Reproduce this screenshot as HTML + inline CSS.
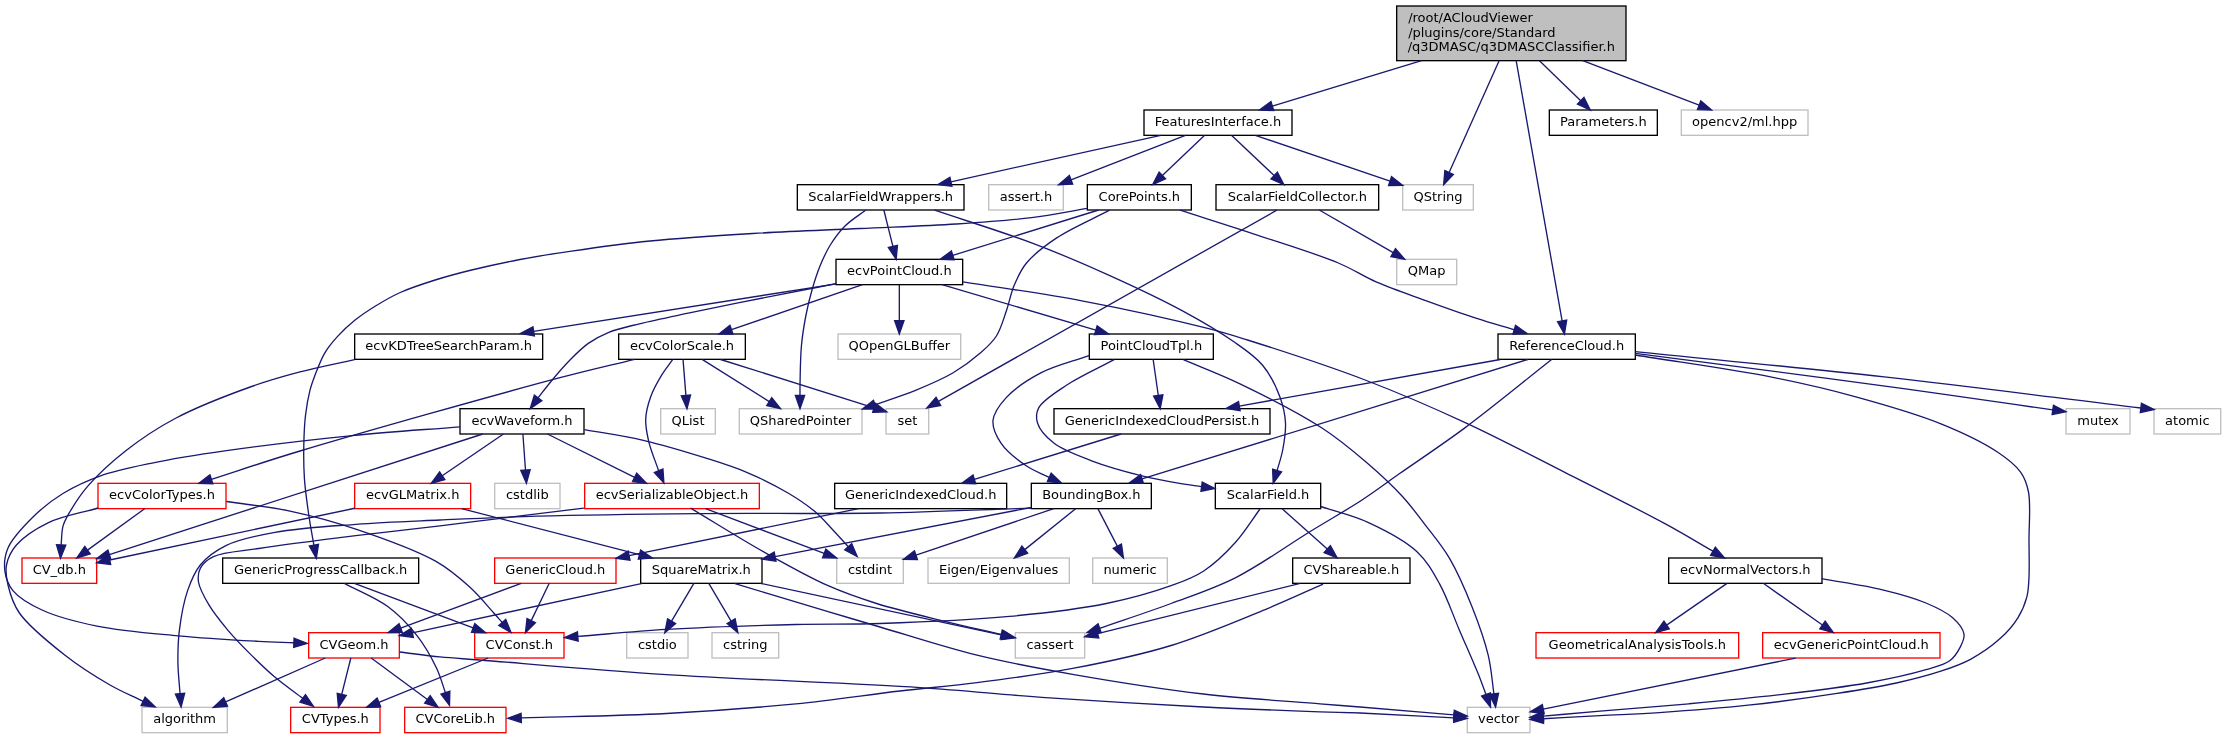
<!DOCTYPE html>
<html><head><meta charset="utf-8"><title>q3DMASCClassifier.h include graph</title>
<style>html,body{margin:0;padding:0;background:#fff}svg{display:block;will-change:transform}text{font-family:"DejaVu Sans","Liberation Sans",sans-serif;font-size:13px;fill:#000}.e path{fill:none;stroke:#191970;stroke-width:1.333}.e polygon{fill:#191970;stroke:#191970;stroke-width:1.333}.n rect{stroke-width:1.333}</style></head><body>
<svg width="2226" height="739" viewBox="0 0 2226 739">
<rect x="0" y="0" width="2226" height="739" fill="#fff"/>
<g class="n">
<rect x="1396.67" y="6.00" width="229.33" height="54.67" fill="#bfbfbf" stroke="#000"/>
<text x="1408.13" y="22.00">/root/ACloudViewer</text>
<text x="1408.13" y="36.67">/plugins/core/Standard</text>
<text x="1511.33" y="51.33" text-anchor="middle">/q3DMASC/q3DMASCClassifier.h</text>
<rect x="1144.00" y="110.00" width="148.00" height="25.33" fill="#fff" stroke="#000"/>
<text x="1218.00" y="126.00" text-anchor="middle">FeaturesInterface.h</text>
<rect x="1549.33" y="110.00" width="108.00" height="25.33" fill="#fff" stroke="#000"/>
<text x="1603.33" y="126.00" text-anchor="middle">Parameters.h</text>
<rect x="1681.33" y="110.00" width="126.67" height="25.33" fill="#fff" stroke="#bfbfbf"/>
<text x="1744.67" y="126.00" text-anchor="middle">opencv2/ml.hpp</text>
<rect x="797.33" y="184.67" width="166.67" height="25.33" fill="#fff" stroke="#000"/>
<text x="880.67" y="200.67" text-anchor="middle">ScalarFieldWrappers.h</text>
<rect x="988.67" y="184.67" width="74.67" height="25.33" fill="#fff" stroke="#bfbfbf"/>
<text x="1026.00" y="200.67" text-anchor="middle">assert.h</text>
<rect x="1087.33" y="184.67" width="104.00" height="25.33" fill="#fff" stroke="#000"/>
<text x="1139.33" y="200.67" text-anchor="middle">CorePoints.h</text>
<rect x="1216.00" y="184.67" width="162.67" height="25.33" fill="#fff" stroke="#000"/>
<text x="1297.33" y="200.67" text-anchor="middle">ScalarFieldCollector.h</text>
<rect x="1402.67" y="184.67" width="70.67" height="25.33" fill="#fff" stroke="#bfbfbf"/>
<text x="1438.00" y="200.67" text-anchor="middle">QString</text>
<rect x="836.00" y="259.33" width="126.67" height="25.33" fill="#fff" stroke="#000"/>
<text x="899.33" y="275.33" text-anchor="middle">ecvPointCloud.h</text>
<rect x="1396.67" y="259.33" width="60.00" height="25.33" fill="#fff" stroke="#bfbfbf"/>
<text x="1426.67" y="275.33" text-anchor="middle">QMap</text>
<rect x="354.67" y="334.00" width="188.00" height="25.33" fill="#fff" stroke="#000"/>
<text x="448.67" y="350.00" text-anchor="middle">ecvKDTreeSearchParam.h</text>
<rect x="618.67" y="334.00" width="126.67" height="25.33" fill="#fff" stroke="#000"/>
<text x="682.00" y="350.00" text-anchor="middle">ecvColorScale.h</text>
<rect x="838.00" y="334.00" width="122.67" height="25.33" fill="#fff" stroke="#bfbfbf"/>
<text x="899.33" y="350.00" text-anchor="middle">QOpenGLBuffer</text>
<rect x="1089.33" y="334.00" width="124.00" height="25.33" fill="#fff" stroke="#000"/>
<text x="1151.33" y="350.00" text-anchor="middle">PointCloudTpl.h</text>
<rect x="1498.00" y="334.00" width="137.33" height="25.33" fill="#fff" stroke="#000"/>
<text x="1566.67" y="350.00" text-anchor="middle">ReferenceCloud.h</text>
<rect x="460.00" y="408.67" width="124.00" height="25.33" fill="#fff" stroke="#000"/>
<text x="522.00" y="424.67" text-anchor="middle">ecvWaveform.h</text>
<rect x="660.67" y="408.67" width="54.67" height="25.33" fill="#fff" stroke="#bfbfbf"/>
<text x="688.00" y="424.67" text-anchor="middle">QList</text>
<rect x="739.33" y="408.67" width="122.67" height="25.33" fill="#fff" stroke="#bfbfbf"/>
<text x="800.67" y="424.67" text-anchor="middle">QSharedPointer</text>
<rect x="886.00" y="408.67" width="42.67" height="25.33" fill="#fff" stroke="#bfbfbf"/>
<text x="907.33" y="424.67" text-anchor="middle">set</text>
<rect x="1054.00" y="408.67" width="216.00" height="25.33" fill="#fff" stroke="#000"/>
<text x="1162.00" y="424.67" text-anchor="middle">GenericIndexedCloudPersist.h</text>
<rect x="2066.00" y="408.67" width="64.00" height="25.33" fill="#fff" stroke="#bfbfbf"/>
<text x="2098.00" y="424.67" text-anchor="middle">mutex</text>
<rect x="2154.00" y="408.67" width="66.67" height="25.33" fill="#fff" stroke="#bfbfbf"/>
<text x="2187.33" y="424.67" text-anchor="middle">atomic</text>
<rect x="98.00" y="483.33" width="128.00" height="25.33" fill="#fff" stroke="#f00"/>
<text x="162.00" y="499.33" text-anchor="middle">ecvColorTypes.h</text>
<rect x="354.67" y="483.33" width="116.00" height="25.33" fill="#fff" stroke="#f00"/>
<text x="412.67" y="499.33" text-anchor="middle">ecvGLMatrix.h</text>
<rect x="494.67" y="483.33" width="65.33" height="25.33" fill="#fff" stroke="#bfbfbf"/>
<text x="527.33" y="499.33" text-anchor="middle">cstdlib</text>
<rect x="584.67" y="483.33" width="174.67" height="25.33" fill="#fff" stroke="#f00"/>
<text x="672.00" y="499.33" text-anchor="middle">ecvSerializableObject.h</text>
<rect x="834.67" y="483.33" width="172.00" height="25.33" fill="#fff" stroke="#000"/>
<text x="920.67" y="499.33" text-anchor="middle">GenericIndexedCloud.h</text>
<rect x="1031.33" y="483.33" width="120.00" height="25.33" fill="#fff" stroke="#000"/>
<text x="1091.33" y="499.33" text-anchor="middle">BoundingBox.h</text>
<rect x="1215.33" y="483.33" width="105.33" height="25.33" fill="#fff" stroke="#000"/>
<text x="1268.00" y="499.33" text-anchor="middle">ScalarField.h</text>
<rect x="22.00" y="558.00" width="74.67" height="25.33" fill="#fff" stroke="#f00"/>
<text x="59.33" y="574.00" text-anchor="middle">CV_db.h</text>
<rect x="222.67" y="558.00" width="196.00" height="25.33" fill="#fff" stroke="#000"/>
<text x="320.67" y="574.00" text-anchor="middle">GenericProgressCallback.h</text>
<rect x="494.67" y="558.00" width="121.33" height="25.33" fill="#fff" stroke="#f00"/>
<text x="555.33" y="574.00" text-anchor="middle">GenericCloud.h</text>
<rect x="640.67" y="558.00" width="121.33" height="25.33" fill="#fff" stroke="#000"/>
<text x="701.33" y="574.00" text-anchor="middle">SquareMatrix.h</text>
<rect x="836.67" y="558.00" width="66.67" height="25.33" fill="#fff" stroke="#bfbfbf"/>
<text x="870.00" y="574.00" text-anchor="middle">cstdint</text>
<rect x="928.00" y="558.00" width="141.33" height="25.33" fill="#fff" stroke="#bfbfbf"/>
<text x="998.67" y="574.00" text-anchor="middle">Eigen/Eigenvalues</text>
<rect x="1092.67" y="558.00" width="74.67" height="25.33" fill="#fff" stroke="#bfbfbf"/>
<text x="1130.00" y="574.00" text-anchor="middle">numeric</text>
<rect x="1292.67" y="558.00" width="117.33" height="25.33" fill="#fff" stroke="#000"/>
<text x="1351.33" y="574.00" text-anchor="middle">CVShareable.h</text>
<rect x="1668.67" y="558.00" width="153.33" height="25.33" fill="#fff" stroke="#000"/>
<text x="1745.33" y="574.00" text-anchor="middle">ecvNormalVectors.h</text>
<rect x="308.67" y="632.67" width="90.67" height="25.33" fill="#fff" stroke="#f00"/>
<text x="354.00" y="648.67" text-anchor="middle">CVGeom.h</text>
<rect x="474.67" y="632.67" width="89.33" height="25.33" fill="#fff" stroke="#f00"/>
<text x="519.33" y="648.67" text-anchor="middle">CVConst.h</text>
<rect x="626.67" y="632.67" width="61.33" height="25.33" fill="#fff" stroke="#bfbfbf"/>
<text x="657.33" y="648.67" text-anchor="middle">cstdio</text>
<rect x="712.00" y="632.67" width="66.67" height="25.33" fill="#fff" stroke="#bfbfbf"/>
<text x="745.33" y="648.67" text-anchor="middle">cstring</text>
<rect x="1015.33" y="632.67" width="69.33" height="25.33" fill="#fff" stroke="#bfbfbf"/>
<text x="1050.00" y="648.67" text-anchor="middle">cassert</text>
<rect x="1536.00" y="632.67" width="202.67" height="25.33" fill="#fff" stroke="#f00"/>
<text x="1637.33" y="648.67" text-anchor="middle">GeometricalAnalysisTools.h</text>
<rect x="1762.67" y="632.67" width="177.33" height="25.33" fill="#fff" stroke="#f00"/>
<text x="1851.33" y="648.67" text-anchor="middle">ecvGenericPointCloud.h</text>
<rect x="142.00" y="707.33" width="85.33" height="25.33" fill="#fff" stroke="#bfbfbf"/>
<text x="184.67" y="723.33" text-anchor="middle">algorithm</text>
<rect x="290.67" y="707.33" width="89.33" height="25.33" fill="#fff" stroke="#f00"/>
<text x="335.33" y="723.33" text-anchor="middle">CVTypes.h</text>
<rect x="404.67" y="707.33" width="101.33" height="25.33" fill="#fff" stroke="#f00"/>
<text x="455.33" y="723.33" text-anchor="middle">CVCoreLib.h</text>
<rect x="1467.33" y="707.33" width="62.67" height="25.33" fill="#fff" stroke="#bfbfbf"/>
<text x="1498.67" y="723.33" text-anchor="middle">vector</text>
</g>
<g class="e">
<path d="M1421.58,60.67 L1272.35,106.12"/><polygon points="1270.99,101.65 1259.59,110.00 1273.71,110.58"/>
<path d="M1539.48,60.67 L1580.72,100.71"/><polygon points="1577.47,104.06 1590.29,110.00 1583.97,97.36"/>
<path d="M1582.73,60.67 L1699.13,105.23"/><polygon points="1697.46,109.59 1711.58,110.00 1700.80,100.87"/>
<path d="M1499.11,60.67 L1449.11,172.49"/><polygon points="1444.85,170.59 1443.66,184.67 1453.37,174.40"/>
<path d="M1516.16,60.67 L1562.11,320.87"/><polygon points="1557.52,321.68 1564.43,334.00 1566.71,320.06"/>
<path d="M1160.77,135.33 L950.91,181.78"/><polygon points="949.90,177.23 937.89,184.67 951.92,186.34"/>
<path d="M1185.43,135.33 L1071.00,179.83"/><polygon points="1069.31,175.48 1058.57,184.67 1072.69,184.18"/>
<path d="M1204.65,135.33 L1162.35,175.49"/><polygon points="1159.14,172.10 1152.68,184.67 1165.56,178.87"/>
<path d="M1231.46,135.33 L1274.17,175.53"/><polygon points="1270.97,178.93 1283.87,184.67 1277.36,172.13"/>
<path d="M1255.32,135.33 L1390.04,181.06"/><polygon points="1388.54,185.48 1402.67,185.34 1391.54,176.64"/>
<path d="M883.83,210.00 L892.93,246.40"/><polygon points="888.41,247.53 896.17,259.33 897.46,245.27"/>
<path d="M1098.62,210.00 L952.78,255.37"/><polygon points="951.39,250.92 940.05,259.33 954.17,259.83"/>
<path d="M1319.27,210.00 L1393.18,252.67"/><polygon points="1390.85,256.71 1404.73,259.33 1395.51,248.63"/>
<path d="M862.46,284.67 L731.48,329.67"/><polygon points="729.96,325.25 718.87,334.00 733.00,334.08"/>
<path d="M899.33,284.67 L899.33,320.67"/><polygon points="894.67,320.67 899.33,334.00 904.00,320.67"/>
<path d="M942.08,284.67 L1095.80,330.21"/><polygon points="1094.47,334.69 1108.58,334.00 1097.13,325.74"/>
<path d="M683.02,359.33 L685.91,395.38"/><polygon points="681.26,395.75 686.98,408.67 690.57,395.00"/>
<path d="M702.13,359.33 L769.25,401.57"/><polygon points="766.77,405.52 780.54,408.67 771.74,397.62"/>
<path d="M1153.14,359.33 L1158.30,395.47"/><polygon points="1153.69,396.13 1160.19,408.67 1162.92,394.81"/>
<path d="M1121.06,434.00 L974.34,479.39"/><polygon points="972.97,474.93 961.61,483.33 975.72,483.85"/>
<path d="M503.45,434.00 L442.22,475.81"/><polygon points="439.59,471.96 431.21,483.33 444.86,479.67"/>
<path d="M522.90,434.00 L525.48,470.03"/><polygon points="520.82,470.37 526.43,483.33 530.13,469.70"/>
<path d="M547.45,434.00 L634.62,477.39"/><polygon points="632.54,481.57 646.55,483.33 636.70,473.21"/>
<path d="M482.76,434.00 L109.36,554.52"/><polygon points="107.92,550.08 96.67,558.62 110.79,558.96"/>
<path d="M144.58,508.67 L87.53,550.16"/><polygon points="84.79,546.38 76.75,558.00 90.28,553.93"/>
<path d="M354.67,508.26 L109.71,560.02"/><polygon points="108.75,555.46 96.67,562.78 110.68,564.59"/>
<path d="M461.64,508.67 L639.45,554.66"/><polygon points="638.29,559.18 652.36,558.00 640.62,550.14"/>
<path d="M705.59,508.67 L824.19,553.39"/><polygon points="822.54,557.76 836.67,558.10 825.84,549.03"/>
<path d="M858.69,508.67 L629.06,555.60"/><polygon points="628.13,551.03 616.00,558.27 630.00,560.17"/>
<path d="M1031.33,507.49 L775.10,556.54"/><polygon points="774.22,551.96 762.00,559.05 775.97,561.13"/>
<path d="M1053.79,508.67 L915.97,555.16"/><polygon points="914.48,550.74 903.33,559.42 917.46,559.58"/>
<path d="M1075.61,508.67 L1024.77,549.63"/><polygon points="1021.84,546.00 1014.39,558.00 1027.70,553.27"/>
<path d="M1097.89,508.67 L1117.31,546.16"/><polygon points="1113.17,548.31 1123.44,558.00 1121.45,544.01"/>
<path d="M1282.14,508.67 L1327.27,549.10"/><polygon points="1324.15,552.58 1337.20,558.00 1330.38,545.63"/>
<path d="M354.37,583.33 L473.15,627.98"/><polygon points="471.51,632.34 485.63,632.67 474.79,623.61"/>
<path d="M521.18,583.33 L400.66,628.03"/><polygon points="399.03,623.65 388.16,632.67 402.28,632.41"/>
<path d="M549.23,583.33 L531.23,620.66"/><polygon points="527.03,618.63 525.44,632.67 535.43,622.68"/>
<path d="M642.41,583.33 L412.37,632.79"/><polygon points="411.39,628.22 399.33,635.59 413.35,637.35"/>
<path d="M693.87,583.33 L671.57,621.18"/><polygon points="667.55,618.81 664.80,632.67 675.59,623.55"/>
<path d="M708.80,583.33 L731.10,621.18"/><polygon points="727.08,623.55 737.87,632.67 735.12,618.81"/>
<path d="M760.48,583.33 L1002.30,635.12"/><polygon points="1001.32,639.68 1015.33,637.91 1003.27,630.55"/>
<path d="M1300.21,583.33 L1097.61,633.54"/><polygon points="1096.49,629.01 1084.67,636.74 1098.73,638.07"/>
<path d="M1727.01,583.33 L1666.62,625.08"/><polygon points="1663.97,621.25 1655.65,632.67 1669.28,628.92"/>
<path d="M1763.32,583.33 L1822.45,624.99"/><polygon points="1819.76,628.80 1833.35,632.67 1825.14,621.17"/>
<path d="M325.27,658.00 L225.59,701.95"/><polygon points="223.71,697.68 213.39,707.33 227.48,706.22"/>
<path d="M350.83,658.00 L341.73,694.40"/><polygon points="337.21,693.27 338.50,707.33 346.26,695.53"/>
<path d="M371.19,658.00 L427.41,699.42"/><polygon points="424.64,703.18 438.14,707.33 430.18,695.67"/>
<path d="M488.12,658.00 L378.90,702.32"/><polygon points="377.15,698.00 366.55,707.33 380.66,706.64"/>
<path d="M865.50,210.20C858.67,215.47 850.94,220.07 845.00,226.00C839.27,231.72 834.48,238.28 830.30,245.00C826.17,251.63 823.01,258.66 820.00,266.00C816.87,273.63 814.33,281.87 812.00,290.00C809.65,298.20 807.70,306.25 806.00,315.00C804.15,324.51 802.49,334.59 801.50,345.00C800.44,356.19 800.32,370.70 800.10,380.00C799.95,386.16 800.02,390.24 799.98,395.37"/><polygon points="795.32,395.37 800.00,408.70 804.65,395.36"/>
<path d="M934.70,210.20C967.00,221.10 1001.51,231.57 1031.60,242.90C1058.49,253.02 1082.01,263.07 1107.00,274.30C1132.32,285.68 1160.12,298.70 1182.50,310.80C1201.22,320.92 1218.51,330.99 1232.80,341.00C1244.36,349.10 1254.65,355.62 1262.60,365.20C1270.42,374.63 1276.48,387.45 1280.30,397.90C1283.47,406.58 1285.07,414.45 1285.50,423.00C1285.94,431.80 1284.26,441.67 1282.70,450.00C1281.32,457.38 1278.97,463.70 1277.10,470.55"/><polygon points="1272.64,469.18 1273.20,483.30 1281.56,471.91"/>
<path d="M1109.60,210.20C1091.97,219.43 1071.45,228.07 1056.70,237.90C1044.74,245.87 1033.84,254.11 1026.50,263.00C1020.54,270.22 1017.34,277.76 1014.00,285.70C1010.64,293.69 1009.30,302.49 1006.40,310.80C1003.45,319.25 1000.94,328.83 996.40,336.00C992.24,342.56 987.12,347.10 980.90,352.60C973.26,359.35 963.46,366.66 953.20,372.70C941.88,379.36 928.42,385.00 915.50,390.30C902.37,395.68 888.51,399.88 875.01,404.67"/><polygon points="873.50,400.26 862.40,409.00 876.53,409.09"/>
<path d="M1087.40,208.40C1068.80,211.50 1051.66,215.20 1031.60,217.70C1008.39,220.60 982.80,222.26 956.10,224.00C926.01,225.96 892.91,226.96 860.00,228.50C825.24,230.12 788.15,231.39 752.80,233.50C718.16,235.57 681.92,237.78 650.00,241.00C622.03,243.82 594.89,247.69 571.50,251.10C552.51,253.87 536.86,256.30 520.00,259.50C503.58,262.62 486.54,266.33 471.60,270.00C458.56,273.20 447.14,276.23 435.20,280.00C423.35,283.74 410.73,287.76 400.20,292.50C390.96,296.66 382.88,301.49 375.10,306.30C367.93,310.73 361.37,315.06 355.10,320.10C348.88,325.10 342.76,330.76 337.60,336.40C332.82,341.62 328.65,346.50 325.00,352.60C321.00,359.29 317.64,368.38 315.00,375.20C312.89,380.66 311.45,384.50 310.00,390.20C308.16,397.44 306.53,406.53 305.50,415.30C304.38,424.82 304.00,435.05 303.80,445.30C303.59,456.06 303.66,467.43 304.40,478.40C305.13,489.33 307.01,502.24 308.20,511.00C309.00,516.94 309.62,520.63 310.50,525.90C311.50,531.90 312.78,538.69 313.91,545.08"/><polygon points="309.32,545.92 316.30,558.20 318.51,544.25"/>
<path d="M1180.00,210.20C1206.00,218.57 1231.85,226.59 1258.00,235.30C1284.64,244.18 1316.85,253.94 1338.40,263.00C1353.57,269.38 1362.46,275.94 1376.10,281.90C1391.50,288.63 1409.60,294.70 1426.40,300.80C1443.13,306.87 1461.11,313.32 1476.70,318.40C1490.07,322.75 1501.71,325.95 1514.21,329.72"/><polygon points="1512.89,334.20 1527.00,333.50 1515.54,325.25"/>
<path d="M836.60,283.80 L533.67,331.43"/><polygon points="532.95,326.82 520.50,333.50 534.40,336.04"/>
<path d="M1500.30,359.50 L1239.33,406.06"/><polygon points="1238.51,401.46 1226.20,408.40 1240.15,410.65"/>
<path d="M1527.80,359.50 L1142.04,478.96"/><polygon points="1140.66,474.50 1129.30,482.90 1143.42,483.41"/>
<path d="M1276.80,210.20 L938.41,401.34"/><polygon points="936.11,397.28 926.80,407.90 940.70,405.41"/>
<path d="M835.80,283.70C815.90,287.57 797.77,290.99 776.10,295.30C750.16,300.46 715.53,307.48 690.70,312.70C671.45,316.75 654.35,320.14 639.50,323.80C627.92,326.66 617.82,328.66 608.80,332.30C601.08,335.41 594.58,338.96 588.30,343.40C582.06,347.81 576.94,353.04 571.20,358.80C564.72,365.30 557.43,373.76 551.60,380.70C546.58,386.68 542.60,392.14 538.10,397.86"/><polygon points="534.34,395.09 530.20,408.60 541.86,400.62"/>
<path d="M963.10,281.90C1002.70,288.20 1041.84,293.23 1081.90,300.80C1123.35,308.64 1177.60,320.72 1207.70,328.40C1224.78,332.76 1230.80,334.73 1247.50,340.00C1276.41,349.12 1327.73,365.72 1365.10,380.00C1400.07,393.37 1432.06,407.29 1465.20,422.60C1498.80,438.13 1531.98,455.74 1565.30,472.60C1598.71,489.50 1638.31,509.20 1665.40,523.90C1684.32,534.17 1697.11,542.10 1712.97,551.20"/><polygon points="1710.63,555.23 1724.50,557.90 1715.32,547.17"/>
<path d="M354.70,359.60C336.47,363.70 317.60,367.27 300.00,371.90C283.29,376.29 269.34,380.14 251.60,386.50C229.03,394.59 198.26,406.30 176.10,418.00C157.13,428.02 140.91,438.89 125.80,450.70C111.78,461.65 97.78,474.66 88.00,485.90C80.46,494.56 74.79,503.56 70.40,511.00C67.17,516.47 64.66,520.48 63.10,525.90C61.43,531.71 61.77,538.55 61.11,544.88"/><polygon points="56.44,544.67 60.50,558.20 65.77,545.09"/>
<path d="M634.60,359.30C609.73,365.43 592.29,369.17 560.00,377.70C499.45,393.70 363.77,431.83 300.00,451.00C262.58,462.25 240.93,469.87 211.39,479.31"/><polygon points="209.96,474.87 198.70,483.40 212.82,483.75"/>
<path d="M672.60,359.70C668.70,365.27 664.47,370.42 660.90,376.40C657.13,382.71 653.23,389.61 650.70,396.70C648.16,403.81 646.02,411.54 645.70,419.00C645.38,426.40 646.86,433.44 648.70,441.30C650.86,450.53 655.32,460.93 658.64,470.75"/><polygon points="654.35,472.59 663.90,483.00 662.92,468.91"/>
<path d="M720.60,359.50 L874.08,407.80"/><polygon points="872.68,412.25 886.80,411.80 875.48,403.35"/>
<path d="M1089.10,355.60C1073.17,361.30 1055.57,365.24 1041.30,372.70C1028.11,379.60 1014.29,388.76 1006.00,397.90C999.57,404.99 993.70,412.80 993.00,420.50C992.33,427.88 996.33,436.10 1001.00,443.10C1006.56,451.42 1017.58,459.90 1026.20,465.80C1033.72,470.95 1041.56,473.55 1049.24,477.43"/><polygon points="1047.33,481.69 1061.40,482.90 1051.15,473.17"/>
<path d="M1114.20,359.60C1098.27,368.17 1079.82,376.34 1066.40,385.30C1055.51,392.57 1042.71,400.25 1038.70,407.90C1036.09,412.88 1035.92,417.93 1037.50,423.00C1039.56,429.63 1046.39,437.30 1053.80,443.10C1063.21,450.46 1077.89,455.58 1091.60,460.80C1106.97,466.65 1126.26,471.90 1141.90,475.80C1155.29,479.14 1168.70,481.50 1179.60,483.40C1187.89,484.84 1194.26,485.54 1201.59,486.62"/><polygon points="1200.96,491.24 1214.80,488.40 1202.21,481.99"/>
<path d="M1183.40,359.60C1202.27,367.67 1219.63,373.98 1240.00,383.80C1265.06,395.88 1299.38,413.30 1322.00,428.00C1339.48,439.36 1352.34,450.32 1366.00,462.00C1378.89,473.02 1391.64,484.77 1402.00,496.00C1410.96,505.71 1417.51,514.83 1425.20,524.90C1433.31,535.51 1442.02,545.66 1449.40,558.20C1457.82,572.50 1465.48,590.35 1472.00,606.70C1478.37,622.69 1484.51,639.80 1488.20,655.20C1491.42,668.64 1492.02,680.91 1493.94,693.77"/><polygon points="1489.31,694.35 1495.60,707.00 1498.57,693.19"/>
<path d="M1551.60,359.50C1522.80,382.20 1492.24,407.49 1465.20,427.60C1442.19,444.71 1418.81,460.10 1400.00,473.30C1385.63,483.38 1375.76,491.00 1362.00,500.00C1346.40,510.20 1329.62,519.57 1311.00,531.00C1288.33,544.91 1260.46,565.14 1235.80,577.60C1213.91,588.66 1193.30,595.21 1171.10,603.50C1147.96,612.13 1123.44,620.02 1099.61,628.28"/><polygon points="1098.10,623.86 1087.00,632.60 1101.13,632.69"/>
<path d="M1635.20,355.00C1680.30,362.30 1730.70,369.05 1770.50,376.90C1802.32,383.18 1827.53,389.03 1855.80,396.80C1884.36,404.64 1915.82,413.59 1941.00,423.80C1962.22,432.41 1983.55,442.65 1997.80,452.20C2007.63,458.79 2015.43,464.79 2020.60,472.10C2024.95,478.25 2026.88,483.74 2028.50,492.00C2030.93,504.36 2028.94,524.80 2029.00,540.00C2029.05,553.75 2029.53,568.78 2028.90,579.30C2028.47,586.41 2028.42,591.06 2026.80,597.10C2024.99,603.87 2022.02,611.19 2017.90,617.80C2013.36,625.09 2007.27,632.10 2000.10,638.60C1991.86,646.07 1980.70,653.78 1970.50,659.30C1960.90,664.49 1951.81,667.54 1940.80,671.20C1927.60,675.58 1912.35,679.49 1896.40,683.00C1878.14,687.02 1858.90,690.04 1837.10,693.40C1810.49,697.50 1777.87,702.00 1748.20,705.20C1718.61,708.39 1685.96,710.82 1659.30,712.60C1637.55,714.05 1619.54,714.56 1600.00,715.60C1580.89,716.61 1562.21,717.70 1543.31,718.75"/><polygon points="1543.05,714.09 1530.00,719.50 1543.57,723.41"/>
<path d="M1635.20,353.30C1699.23,361.63 1771.63,370.86 1827.30,378.30C1870.15,384.03 1903.27,388.61 1941.00,393.90C1978.43,399.15 2015.53,404.57 2052.80,409.91"/><polygon points="2052.14,414.53 2066.00,411.80 2053.46,405.29"/>
<path d="M1635.20,351.60C1718.20,360.03 1800.62,367.59 1884.20,376.90C1969.15,386.36 2055.31,397.63 2140.86,407.99"/><polygon points="2140.30,412.62 2154.10,409.60 2141.43,403.36"/>
<path d="M459.90,426.80C424.00,429.73 389.46,431.84 352.20,435.60C311.86,439.67 262.96,445.46 226.40,450.70C197.99,454.77 173.44,458.63 150.90,463.30C132.35,467.15 115.92,470.36 100.60,475.80C86.87,480.68 74.37,486.43 62.90,493.50C51.94,500.26 42.07,508.05 33.00,517.00C23.72,526.16 12.38,537.81 8.00,548.00C4.64,555.82 3.96,563.93 4.90,571.20C5.79,578.08 8.12,584.77 12.90,590.60C19.07,598.13 30.27,604.53 42.00,610.00C57.01,617.00 76.71,621.94 97.00,626.10C121.19,631.06 150.91,633.26 177.90,635.80C204.81,638.33 237.28,640.12 258.70,641.30C272.82,642.08 282.15,642.29 293.88,642.79"/><polygon points="293.70,647.46 307.20,643.30 294.05,638.13"/>
<path d="M584.40,429.60C604.03,433.17 623.53,435.71 643.30,440.30C663.82,445.06 686.79,452.06 705.30,457.90C720.57,462.72 733.09,466.55 746.70,472.30C760.67,478.20 775.92,485.85 788.00,493.00C798.16,499.02 807.20,505.12 814.90,511.60C821.55,517.19 826.42,523.12 832.00,529.00C837.54,534.83 842.83,540.81 848.25,546.72"/><polygon points="844.79,549.85 857.20,556.60 851.70,543.59"/>
<path d="M98.10,508.00C81.57,512.87 62.79,515.71 48.50,522.60C36.02,528.62 23.28,537.02 16.20,545.30C10.92,551.47 7.81,558.22 6.50,565.00C5.25,571.48 6.34,577.91 8.00,585.00C10.04,593.70 12.82,603.48 19.40,613.00C28.81,626.61 49.08,642.72 64.70,655.00C79.35,666.51 95.83,676.86 110.00,685.00C121.68,691.71 132.09,695.88 143.14,701.32"/><polygon points="141.15,705.55 155.20,707.00 145.12,697.10"/>
<path d="M226.40,501.50C247.97,504.77 269.67,506.75 291.10,511.30C312.80,515.91 333.30,521.50 355.80,529.10C381.34,537.72 415.50,549.75 436.00,561.40C450.41,569.59 459.99,578.21 470.00,587.30C479.10,595.56 488.12,606.71 494.00,613.20C497.48,617.04 499.48,619.38 502.22,622.46"/><polygon points="498.71,625.54 511.00,632.50 505.73,619.39"/>
<path d="M690.60,508.10C714.87,522.63 739.67,538.37 763.40,551.70C785.43,564.07 807.80,576.69 828.10,585.70C845.16,593.28 858.92,597.96 876.60,603.50C897.24,609.97 923.02,615.94 944.70,621.30C964.38,626.17 982.37,630.10 1001.21,634.50"/><polygon points="1000.16,639.05 1014.20,637.50 1002.26,629.95"/>
<path d="M583.90,508.10C557.50,511.33 529.76,514.70 504.70,517.80C482.04,520.61 462.99,523.14 440.00,525.90C413.79,529.05 384.85,532.00 355.80,535.60C324.57,539.47 284.92,544.41 258.70,548.50C240.75,551.30 223.61,551.76 213.50,556.60C207.31,559.56 202.95,563.40 200.50,567.90C198.27,571.99 197.75,576.84 198.50,582.00C199.50,588.91 204.57,597.57 209.10,605.20C214.11,613.63 221.10,622.11 227.80,630.10C234.59,638.19 241.96,645.75 249.60,653.40C257.50,661.32 265.74,669.37 274.50,676.80C283.43,684.37 293.30,691.16 302.70,698.34"/><polygon points="299.92,702.09 313.40,706.30 305.49,694.60"/>
<path d="M1031.40,508.10C980.93,509.73 932.75,512.06 880.00,513.00C822.29,514.03 757.40,513.03 698.70,513.60C643.26,514.14 584.04,514.90 537.00,516.20C500.55,517.21 471.19,518.59 440.00,520.00C410.94,521.31 383.56,522.22 355.80,524.30C328.54,526.34 298.29,528.04 274.90,532.30C256.52,535.65 239.56,538.90 226.40,545.30C215.83,550.44 207.03,556.86 200.50,564.70C194.32,572.11 190.98,580.85 187.60,590.60C183.64,602.01 181.09,617.00 179.50,629.40C178.06,640.60 177.81,650.96 177.90,661.70C177.99,672.40 179.31,683.04 180.01,693.71"/><polygon points="175.36,694.09 181.10,707.00 184.66,693.33"/>
<path d="M1260.00,509.00C1251.93,520.00 1245.04,531.77 1235.80,542.00C1226.26,552.56 1214.81,563.76 1203.40,571.20C1193.12,577.90 1183.93,581.09 1171.10,585.70C1153.44,592.05 1130.33,598.64 1106.40,603.50C1077.51,609.37 1044.13,613.14 1009.40,616.40C969.44,620.15 918.53,622.21 880.00,623.50C848.94,624.54 826.86,623.73 795.80,624.50C757.28,625.46 705.44,627.12 666.40,629.40C634.05,631.29 607.33,634.07 577.79,636.41"/><polygon points="577.41,631.76 564.50,637.50 578.17,641.06"/>
<path d="M1320.50,506.50C1336.50,511.87 1352.84,515.38 1368.50,522.60C1385.05,530.23 1404.71,540.25 1417.00,551.70C1427.28,561.28 1432.97,572.01 1439.70,584.10C1447.21,597.59 1452.63,614.31 1459.10,629.40C1465.56,644.48 1473.65,662.54 1478.50,674.60C1481.68,682.52 1483.47,687.84 1485.95,694.47"/><polygon points="1481.57,696.06 1490.50,707.00 1490.34,692.87"/>
<path d="M1323.10,584.10C1304.77,592.17 1289.14,599.64 1268.10,608.30C1240.44,619.68 1203.79,635.46 1171.10,645.50C1139.07,655.33 1106.49,661.99 1074.00,668.20C1041.78,674.36 1007.51,678.78 977.00,682.70C949.89,686.19 927.59,687.82 900.00,691.00C867.88,694.70 832.46,700.18 795.80,703.80C755.05,707.83 710.80,711.16 666.40,713.50C619.43,715.97 569.62,716.45 521.23,717.92"/><polygon points="521.09,713.25 507.90,718.30 521.36,722.58"/>
<path d="M1821.70,578.70C1841.67,582.33 1863.24,585.17 1881.60,589.60C1897.62,593.46 1913.31,597.64 1926.00,603.00C1936.29,607.35 1946.14,611.87 1952.70,617.80C1957.99,622.58 1963.13,628.74 1964.00,634.10C1964.73,638.58 1962.27,643.15 1960.10,647.40C1957.70,652.10 1954.52,657.25 1949.70,660.80C1943.82,665.14 1935.81,666.77 1926.00,669.70C1910.81,674.23 1888.56,679.09 1866.70,683.00C1840.15,687.75 1807.46,691.43 1777.80,694.90C1748.20,698.36 1718.54,701.08 1688.90,703.80C1659.28,706.52 1626.32,708.96 1600.00,711.20C1578.98,712.99 1562.19,714.49 1543.28,716.14"/><polygon points="1542.88,711.49 1530.00,717.30 1543.69,720.79"/>
<path d="M344.40,583.40C358.97,591.17 375.59,597.43 388.10,606.70C399.51,615.15 409.01,625.30 417.20,635.80C425.05,645.86 431.73,657.93 436.60,668.20C440.64,676.73 442.48,684.54 445.42,692.71"/><polygon points="440.97,694.14 449.50,705.40 449.86,691.28"/>
<path d="M734.30,583.40C765.57,592.80 801.42,603.63 828.10,611.60C847.94,617.52 860.01,621.13 880.00,627.00C907.31,635.02 944.50,647.24 977.00,655.20C1009.17,663.08 1039.26,668.53 1074.00,674.60C1113.95,681.59 1161.31,689.08 1203.40,694.00C1243.20,698.65 1291.29,701.44 1320.00,703.80C1336.82,705.18 1343.87,705.68 1360.00,707.00C1384.73,709.03 1422.61,712.25 1453.91,714.88"/><polygon points="1453.52,719.53 1467.20,716.00 1454.30,710.23"/>
<path d="M399.70,652.00C413.13,653.63 426.58,655.56 440.00,656.90C453.34,658.23 461.78,658.58 480.00,660.00C519.34,663.07 599.46,670.26 666.40,674.60C744.41,679.65 850.84,683.07 920.00,687.60C967.96,690.74 998.24,694.26 1041.70,697.30C1091.76,700.80 1153.89,704.50 1203.40,707.00C1245.43,709.13 1291.29,710.78 1320.00,711.80C1336.81,712.40 1343.87,712.35 1360.00,713.00C1384.72,714.00 1422.59,716.20 1453.88,717.81"/><polygon points="1453.64,722.47 1467.20,718.50 1454.13,713.15"/>
<path d="M1795.60,658.10 L1543.27,709.16"/><polygon points="1542.34,704.58 1530.20,711.80 1544.19,713.73"/>
</g></svg></body></html>
